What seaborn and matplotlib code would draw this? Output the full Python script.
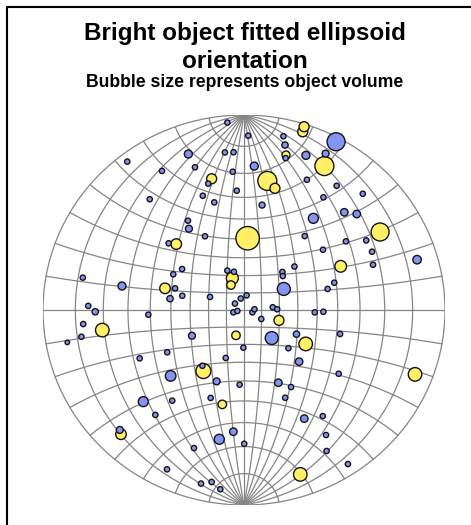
import numpy as np
import pandas as pd
import seaborn as sns
import matplotlib.pyplot as plt
from matplotlib.lines import Line2D

# projected pole positions on the net (unit circle), class and volume (drawing order)
x_yellow = [0.018, 0.116, 0.400, 0.677, -0.202, -0.705, 0.851, 0.307, 0.280, -0.058,
            0.481, -0.337, -0.393, -0.612, -0.161, 0.174, 0.292, 0.299, 0.154, -0.065,
            -0.040, -0.108, 0.209]
y_yellow = [0.368, 0.662, 0.738, 0.400, -0.313, -0.103, -0.330, -0.174, -0.843, 0.163,
            0.224, 0.338, 0.111, -0.637, 0.673, -0.053, 0.914, 0.940, 0.624, 0.128,
            -0.130, -0.484, 0.795]
vol_yellow = [137, 90, 90, 81, 56, 46, 46, 46, 46, 36,
              34, 28, 28, 28, 25, 25, 25, 25, 25, 18,
              18, 18, 16]

x_blue = [0.458, 0.198, 0.138, -0.123, -0.365, -0.501, 0.345, -0.607, -0.277, 0.051,
          0.308, 0.861, -0.259, -0.136, -0.274, 0.406, 0.499, 0.561, 0.274, 0.171,
          0.300, -0.053, -0.618, -0.740, 0.261, 0.204, -0.368, 0.090,
          -0.083, 0.021, 0.196, -0.095, -0.052, -0.581, -0.244, -0.408, -0.056, -0.178,
          -0.036, -0.205, -0.148, -0.469, -0.279, -0.194, -0.375, -0.308, -0.352, -0.802,
          -0.343, -0.083, -0.050, -0.169, -0.307, -0.775, -0.476, -0.045, -0.053, -0.033,
          -0.800, -0.809, -0.879, -0.382, -0.519, -0.091, -0.207, -0.022, -0.357, -0.166,
          -0.441, -0.249, -0.383, -0.214, -0.161, -0.118, 0.001, 0.207, 0.313, 0.461,
          0.591, 0.395, 0.302, 0.507, 0.608, 0.393, 0.637, 0.642, 0.251, 0.191,
          0.193, 0.449, 0.416, 0.013, -0.016, 0.042, 0.052, 0.143, 0.165, 0.086,
          0.352, 0.395, 0.478, -0.003, 0.221, 0.471, 0.234, 0.205, 0.392, 0.408,
          0.411, 0.517]
y_blue = [0.863, 0.108, -0.144, -0.663, -0.338, -0.470, 0.470, 0.123, 0.800, 0.738,
          0.793, 0.258, -0.132, -0.366, 0.417, 0.802, 0.501, 0.492, -0.265, -0.373,
          -0.557, -0.624, -0.615, -0.009, -0.124, 0.846, 0.058, 0.538,
          0.961, 0.894, 0.891, 0.808, 0.809, 0.761, 0.732, 0.713, 0.709, 0.648,
          0.612, 0.586, 0.552, 0.568, 0.458, 0.378, 0.342, 0.210, 0.183, 0.166,
          0.111, 0.202, 0.196, 0.067, 0.073, 0.021, -0.024, 0.033, -0.012, -0.005,
          -0.072, -0.137, -0.166, -0.217, -0.248, -0.246, -0.286, -0.383, -0.465, -0.451,
          -0.538, -0.708, -0.817, -0.890, -0.882, -0.919, -0.686, 0.779, 0.668, 0.637,
          0.596, 0.578, 0.379, 0.352, 0.357, 0.309, 0.299, 0.232, 0.223, 0.195,
          0.174, 0.140, 0.108, 0.075, 0.059, -0.012, 0.004, 0.014, 0.004, -0.046,
          -0.012, -0.009, -0.123, -0.193, -0.196, -0.327, -0.395, -0.450, -0.544, -0.641,
          -0.723, -0.790]
vol_blue = [81, 42, 42, 25, 28, 25, 25, 16, 16, 16,
            16, 18, 12, 12, 12, 12, 14, 14, 14, 14,
            14, 14, 12, 10, 10, 10, 10, 9] + [7] * 32 + [5] + [7] * 49

df = pd.DataFrame({
    "x": x_yellow + x_blue,
    "y": y_yellow + y_blue,
    "volume": vol_yellow + vol_blue,
    "group": ["yellow"] * len(x_yellow) + ["blue"] * len(x_blue),
})

sns.set_style("white")
plt.rcParams["font.family"] = ["Liberation Sans", "DejaVu Sans"]
plt.rcParams["text.color"] = "black"

fig = plt.figure(figsize=(4.71, 5.25), dpi=100)
ax = fig.add_axes([43 / 471, 20 / 525, 402 / 471, 390 / 525])

# Wulff net, 10 degree grid, N-S axis vertical
grid_kw = dict(color="#858585", lw=0.9, zorder=1)
lam = np.radians(np.linspace(-90, 90, 361))
for lon in range(-90, 91, 10):
    phi = np.radians(lon)
    d = 1 + np.cos(lam) * np.cos(phi)
    ax.plot(np.cos(lam) * np.sin(phi) / d, np.sin(lam) / d, **grid_kw)
phi = np.radians(np.linspace(-90, 90, 361))
for lat in range(-80, 81, 10):
    la = np.radians(lat)
    d = 1 + np.cos(la) * np.cos(phi)
    ax.plot(np.cos(la) * np.sin(phi) / d, np.sin(la) / d * np.ones_like(phi), **grid_kw)

k = (2 * 0.72) ** 2  # px^2 -> pt^2
vmin, vmax = df["volume"].min(), df["volume"].max()
sns.scatterplot(data=df, x="x", y="y", hue="group", size="volume",
                palette={"yellow": "#fff066", "blue": "#8494f2"},
                sizes=(vmin * k, vmax * k), size_norm=(vmin, vmax),
                edgecolor="#141414", linewidth=1.0, legend=False,
                clip_on=False, zorder=3, ax=ax)

ax.set_xlim(-1, 1)
ax.set_ylim(-1, 1)
ax.axis("off")

fig.text(245 / 471, 1 - 40 / 525, "Bright object fitted ellipsoid", ha="center",
         va="baseline", fontsize=17.5, fontweight="bold", color="black")
fig.text(245 / 471, 1 - 68 / 525, "orientation", ha="center",
         va="baseline", fontsize=17.5, fontweight="bold", color="black")
fig.text(245 / 471, 1 - 87 / 525, "Bubble size represents object volume", ha="center",
         va="baseline", fontsize=12.7, fontweight="bold", color="black")

fig.add_artist(Line2D([6.5 / 471, 6.5 / 471, 1], [0, 1 - 6.5 / 525, 1 - 6.5 / 525],
                      transform=fig.transFigure, color="black", lw=1.5))

fig.savefig("out.png", dpi=100)
